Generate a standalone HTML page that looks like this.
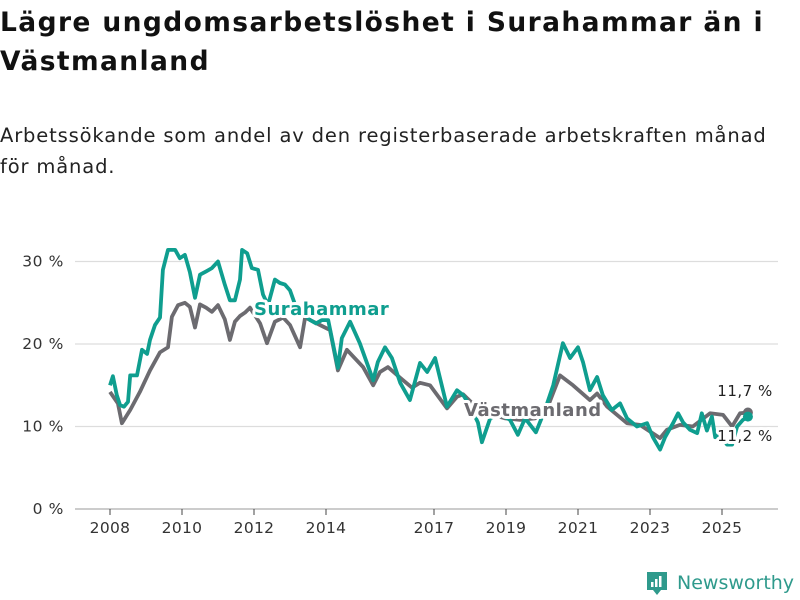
<!DOCTYPE html>
<html><head><meta charset="utf-8">
<style>
body{margin:0;width:800px;height:600px;background:#fff;font-family:"Liberation Sans","DejaVu Sans",sans-serif;overflow:hidden;position:relative}
h1{position:absolute;left:0;top:3px;margin:0;font-family:"DejaVu Sans",sans-serif;font-size:26.5px;line-height:39px;font-weight:bold;color:#111;letter-spacing:1.4px}
.sub{position:absolute;left:0;top:120px;font-family:"DejaVu Sans",sans-serif;font-size:19.5px;line-height:31px;color:#222;letter-spacing:0.85px}
svg{position:absolute;left:0;top:0}
</style></head><body>
<h1>Lägre ungdomsarbetslöshet i Surahammar än i<br>Västmanland</h1>
<div class="sub">Arbetssökande som andel av den registerbaserade arbetskraften månad<br>för månad.</div>
<svg id="chart" width="800" height="600"></svg>
<script>
const yTicks=[0,10,20,30];
const yTickLabels=["0 %","10 %","20 %","30 %"];
const xTicks=[2008,2010,2012,2014,2017,2019,2021,2023,2025];
const suraYears=[2008.00,2008.08,2008.19,2008.28,2008.39,2008.5,2008.56,2008.75,2008.89,2009.03,2009.11,2009.25,2009.39,2009.47,2009.61,2009.81,2009.94,2010.08,2010.22,2010.36,2010.5,2010.67,2010.83,2011.0,2011.19,2011.33,2011.47,2011.61,2011.67,2011.81,2011.94,2012.11,2012.25,2012.39,2012.58,2012.72,2012.86,2013.0,2013.14,2013.28,2013.42,2013.56,2013.72,2013.89,2014.06,2014.33,2014.44,2014.67,2014.94,2015.31,2015.44,2015.64,2015.83,2016.06,2016.33,2016.61,2016.81,2017.03,2017.36,2017.64,2017.81,2018.0,2018.22,2018.33,2018.56,2018.83,2019.11,2019.33,2019.53,2019.83,2020.08,2020.31,2020.58,2020.78,2021.0,2021.14,2021.33,2021.53,2021.69,2021.94,2022.17,2022.36,2022.64,2022.92,2023.08,2023.28,2023.42,2023.64,2023.78,2023.92,2024.11,2024.31,2024.44,2024.58,2024.72,2024.81,2024.94,2025.14,2025.28,2025.42,2025.58,2025.72];
const suraValues=[15,16.1,13.8,12.6,12.4,13,16.2,16.2,19.3,18.8,20.5,22.3,23.2,29,31.4,31.4,30.4,30.8,28.7,25.6,28.4,28.8,29.2,30,27.2,25.3,25.3,27.8,31.4,31,29.2,29,26,24.7,27.8,27.4,27.2,26.5,24.8,24.2,23.5,22.9,22.5,22.9,22.9,17.1,20.7,22.7,20.1,15.6,17.8,19.6,18.3,15.3,13.2,17.7,16.6,18.3,12.4,14.4,13.8,12.5,10.5,8.1,11,11.5,10.8,9,11,9.3,12,15,20.1,18.3,19.6,17.8,14.4,16,13.8,12,12.8,11,10,10.4,8.7,7.2,8.7,10.4,11.6,10.5,9.6,9.2,11.6,9.5,11.2,8.7,9.2,7.8,7.8,10,10.8,11.2];
const vastYears=[2008.0,2008.22,2008.33,2008.56,2008.83,2009.11,2009.39,2009.61,2009.72,2009.89,2010.08,2010.22,2010.36,2010.5,2010.67,2010.83,2011.0,2011.19,2011.33,2011.47,2011.61,2011.75,2011.89,2012.17,2012.36,2012.58,2012.81,2013.0,2013.28,2013.42,2013.56,2013.83,2014.11,2014.33,2014.58,2015.03,2015.31,2015.5,2015.72,2016.06,2016.39,2016.61,2016.89,2017.36,2017.64,2017.81,2018.14,2018.56,2018.97,2019.39,2019.81,2020.17,2020.5,2020.86,2021.33,2021.53,2021.81,2022.36,2022.72,2023.28,2023.47,2023.83,2024.19,2024.67,2025.03,2025.28,2025.5,2025.72];
const vastValues=[14.2,12.8,10.4,12,14.2,16.8,19,19.6,23.3,24.7,25,24.5,22,24.8,24.4,23.9,24.7,23,20.5,22.7,23.4,23.8,24.4,22.5,20.1,22.7,23.2,22.3,19.6,23.2,22.9,22.3,21.7,16.8,19.3,17.2,15,16.6,17.2,15.9,14.7,15.3,15,12.2,13.6,13.9,12.5,11.5,11,10.8,11,12.5,16.2,15,13.2,14,12.4,10.4,10.2,8.6,9.6,10.2,10,11.6,11.4,10,11.6,11.7];
const svg=document.getElementById('chart');
const NS='http://www.w3.org/2000/svg';
const X=y=>110+(y-2008)*36;
const Y=v=>509-v*8.25;
function mk(tag,attrs,parent){const e=document.createElementNS(NS,tag);for(const k in attrs)e.setAttribute(k,attrs[k]);(parent||svg).appendChild(e);return e;}
yTicks.forEach((t,i)=>{
  const g=mk('line',{x1:75,x2:778,y1:Y(t),y2:Y(t),stroke:t===0?'#bbb':'#ddd','stroke-width':t===0?1.5:1.2});
  
  
  const tx=mk('text',{x:64,y:Y(t)+5,'text-anchor':'end','font-size':15.5,fill:'#333','font-family':'DejaVu Sans,sans-serif','letter-spacing':0.6});
  tx.textContent=yTickLabels[i];
  
  
});
xTicks.forEach(t=>{
  const l=mk('line',{x1:X(t),x2:X(t),y1:509,y2:515,stroke:'#444','stroke-width':1});
  
  
  const tx=mk('text',{x:X(t),y:533,'text-anchor':'middle','font-size':15.5,fill:'#333','font-family':'DejaVu Sans,sans-serif','letter-spacing':0.3});
  tx.textContent=t;
  
  
});
function line(years,vals,color,name){
  const d=years.map((y,i)=>(i?'L':'M')+X(y).toFixed(1)+','+Y(vals[i]).toFixed(1)).join('');
  const p=mk('path',{d:d,fill:'none',stroke:color,'stroke-width':3.8,'stroke-linejoin':'round'});
  
  
  const n=years.length-1;
  const c=mk('circle',{cx:X(years[n]),cy:Y(vals[n]),r:5,fill:color});
  
  
}
line(vastYears,vastValues,'#6c6b70','vastmanland-line');
line(suraYears,suraValues,'#0f9e8f','surahammar-line');
function label(x,y,txt,color,name,size,bold,anchor){
  const t=mk('text',{x:x,y:y,fill:color,'font-size':size,'font-weight':bold?'bold':'normal','font-family':'DejaVu Sans,sans-serif',stroke:'#fff','stroke-width':6,'paint-order':'stroke','stroke-linejoin':'round','text-anchor':anchor||'start','letter-spacing':0.5});
  t.textContent=txt;
  
  
}
label(254,315,'Surahammar','#0f9e8f','surahammar-label',18,true);
label(464,416,'Västmanland','#6c6b70','vastmanland-label',18,true);
label(745,396,'11,7 %','#222','vastmanland-last-value',15,false,'middle');
label(745,441,'11,2 %','#222','surahammar-last-value',15,false,'middle');
</script>
<div style="position:absolute;left:645px;top:570px;display:flex;align-items:center">
<svg width="24" height="26" style="position:static"><path d="M2 2h20v18h-6l-4 5-4-5H2z" fill="#2f9a8c"/><rect x="6" y="12" width="2.5" height="5" fill="#fff"/><rect x="10" y="9" width="2.5" height="8" fill="#fff"/><rect x="14" y="6" width="2.5" height="11" fill="#fff"/></svg>
<span style="margin-left:8px;font-family:'DejaVu Sans',sans-serif;font-size:19px;color:#2f9a8c;font-weight:500">Newsworthy</span>
</div>
</body></html>
